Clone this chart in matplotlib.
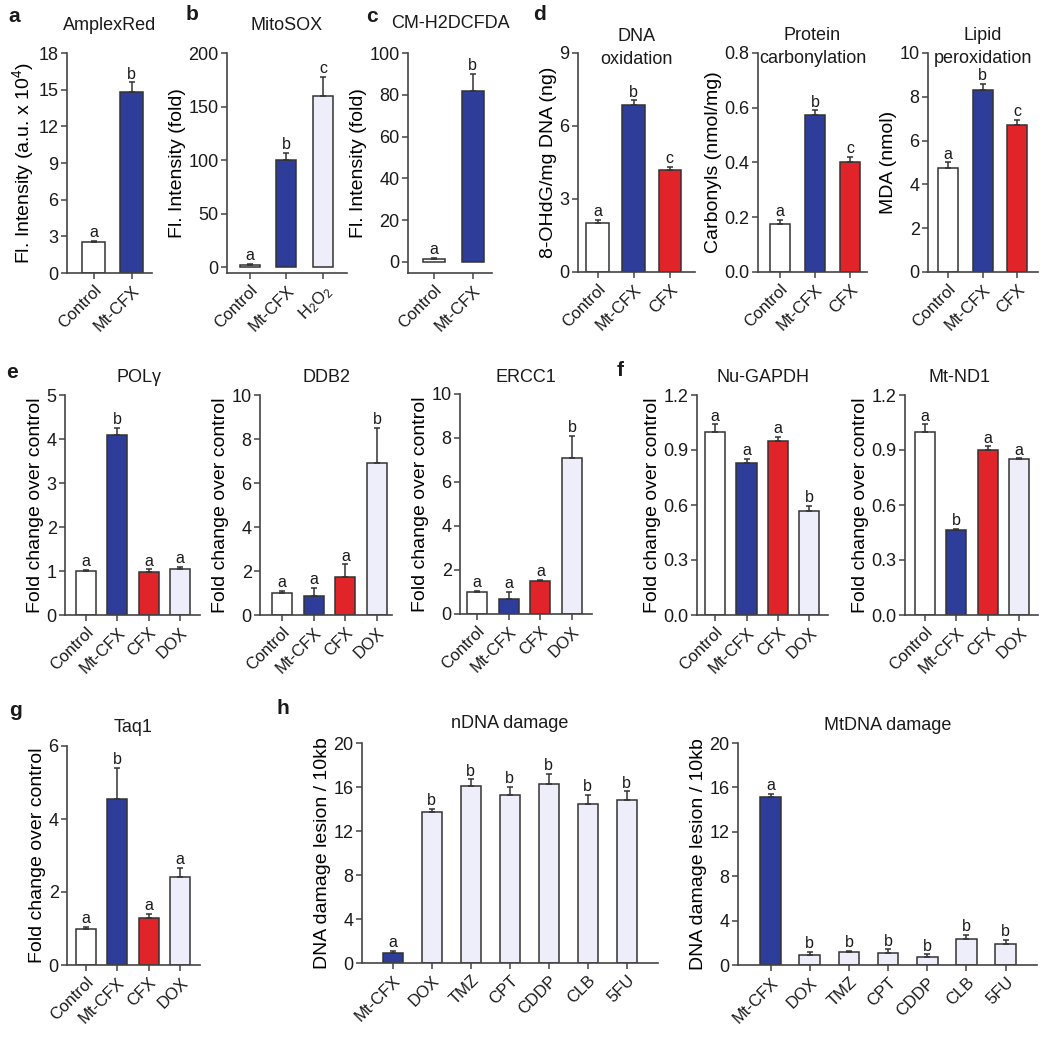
"""Multi-panel bar chart: ROS, oxidative damage, DNA repair genes and lesion counts."""
import matplotlib
matplotlib.use('Agg')
import matplotlib.pyplot as plt
import numpy as np
from matplotlib.ticker import FormatStrFormatter

plt.rcParams['font.family'] = ['Liberation Sans', 'DejaVu Sans']
plt.rcParams['mathtext.fontset'] = 'custom'
plt.rcParams['mathtext.rm'] = 'Liberation Sans'
plt.rcParams['mathtext.it'] = 'Liberation Sans:italic'
plt.rcParams['mathtext.bf'] = 'Liberation Sans:bold'
plt.rcParams['text.color'] = '#1a1a1a'

W, H = 1050, 1039

BLUE = '#2E3C9A'
RED = '#E1232A'
LAVENDER = '#EEEEFA'
WHITE = '#FFFFFF'
EDGE = '#333333'
SPINE = '#444444'

# Groups
CTRL_MT = ['Control', 'Mt-CFX']
MITOSOX_GROUPS = ['Control', 'Mt-CFX', 'H$_2$O$_2$']
GROUPS_3 = ['Control', 'Mt-CFX', 'CFX']
GROUPS_4 = ['Control', 'Mt-CFX', 'CFX', 'DOX']
DRUGS = ['Mt-CFX', 'DOX', 'TMZ', 'CPT', 'CDDP', 'CLB', '5FU']

COLOR_OF = {'Control': WHITE, 'Mt-CFX': BLUE, 'CFX': RED}

# a-c: ROS probes
AMPLEX_MEAN = [2.55, 14.8]
AMPLEX_ERR = [0.1, 0.8]
AMPLEX_SIG = ['a', 'b']

MITOSOX_MEAN = [2.0, 100.0, 160.0]
MITOSOX_ERR = [1.0, 7.0, 18.0]
MITOSOX_SIG = ['a', 'b', 'c']

DCFDA_MEAN = [1.5, 82.0]
DCFDA_ERR = [0.5, 8.0]
DCFDA_SIG = ['a', 'b']

# d: oxidative damage
DNA_OX_MEAN = [2.0, 6.85, 4.2]
DNA_OX_ERR = [0.15, 0.2, 0.12]
DNA_OX_SIG = ['a', 'b', 'c']

CARBONYL_MEAN = [0.175, 0.575, 0.40]
CARBONYL_ERR = [0.015, 0.015, 0.02]
CARBONYL_SIG = ['a', 'b', 'c']

MDA_MEAN = [4.75, 8.3, 6.7]
MDA_ERR = [0.25, 0.3, 0.25]
MDA_SIG = ['a', 'b', 'c']

# e: repair genes
POLG_MEAN = [1.0, 4.1, 0.97, 1.05]
POLG_ERR = [0.02, 0.15, 0.07, 0.05]
POLG_SIG = ['a', 'b', 'a', 'a']

DDB2_MEAN = [1.0, 0.88, 1.75, 6.9]
DDB2_ERR = [0.1, 0.35, 0.55, 1.6]
DDB2_SIG = ['a', 'a', 'a', 'b']

ERCC1_MEAN = [1.0, 0.7, 1.5, 7.1]
ERCC1_ERR = [0.05, 0.3, 0.05, 1.0]
ERCC1_SIG = ['a', 'a', 'a', 'b']

# f: nuclear / mitochondrial genes
GAPDH_MEAN = [1.0, 0.83, 0.95, 0.565]
GAPDH_ERR = [0.04, 0.02, 0.02, 0.03]
GAPDH_SIG = ['a', 'a', 'a', 'b']

ND1_MEAN = [1.0, 0.465, 0.90, 0.85]
ND1_ERR = [0.04, 0.005, 0.02, 0.005]
ND1_SIG = ['a', 'b', 'a', 'a']

# g: Taq1
TAQ1_MEAN = [1.0, 4.55, 1.3, 2.42]
TAQ1_ERR = [0.05, 0.85, 0.1, 0.25]
TAQ1_SIG = ['a', 'b', 'a', 'a']

# h: lesions per 10kb
NDNA_MEAN = [0.9, 13.7, 16.1, 15.3, 16.3, 14.5, 14.8]
NDNA_ERR = [0.2, 0.3, 0.6, 0.7, 0.9, 0.8, 0.8]
NDNA_SIG = ['a', 'b', 'b', 'b', 'b', 'b', 'b']

MTDNA_MEAN = [15.1, 0.9, 1.2, 1.05, 0.75, 2.3, 1.85]
MTDNA_ERR = [0.3, 0.3, 0.1, 0.35, 0.2, 0.4, 0.4]
MTDNA_SIG = ['a', 'b', 'b', 'b', 'b', 'b', 'b']

FOLD = 'Fold change over control'
FLUO = 'Fl. Intensity (fold)'
LESION = 'DNA damage lesion / 10kb'


def px_axes(fig, x0, x1, ytop, ybot):
    return fig.add_axes([x0 / W, 1 - ybot / H, (x1 - x0) / W, (ybot - ytop) / H])


def bar_panel(fig, box, groups, means, errs, sig, yticks, xlim, ylabel=None,
              title=None, title_y=None, title_dx=0, ybottom=0.0, fmt=None,
              width=0.62):
    ax = px_axes(fig, *box)
    x = np.arange(len(groups))
    colors = [COLOR_OF.get(g, LAVENDER) for g in groups]
    ax.bar(x, means, width=width, color=colors, edgecolor=EDGE,
           linewidth=1.1, zorder=2)
    ax.errorbar(x, means, yerr=[np.zeros(len(x)), errs], fmt='none',
                ecolor=EDGE, elinewidth=1.1, capsize=2.5, capthick=1.1,
                zorder=3, clip_on=False)
    for xi, m, e, s in zip(x, means, errs, sig):
        ax.annotate(s, (xi, m + e), xytext=(0, 0.5), textcoords='offset points',
                    ha='center', va='bottom', fontsize=11.5)

    ax.set_xlim(*xlim)
    ax.set_ylim(ybottom, yticks[-1])
    ax.set_yticks(yticks)
    if fmt:
        ax.yaxis.set_major_formatter(FormatStrFormatter(fmt))
    ax.set_xticks(x)
    ax.set_xticklabels(groups, rotation=45, ha='right', rotation_mode='anchor',
                       fontsize=12)
    ax.tick_params(axis='y', labelsize=13, length=4, width=1.1, colors=SPINE,
                   labelcolor='#1a1a1a', pad=2)
    ax.tick_params(axis='x', length=4, width=1.1, colors=SPINE,
                   labelcolor='#1a1a1a', pad=3)
    for side in ['top', 'right']:
        ax.spines[side].set_visible(False)
    for side in ['left', 'bottom']:
        ax.spines[side].set_linewidth(1.2)
        ax.spines[side].set_color(SPINE)
    if ylabel:
        ax.set_ylabel(ylabel, fontsize=14, labelpad=2)
    if title:
        cx = (box[0] + box[1]) / 2 + title_dx
        fig.text(cx / W, 1 - title_y / H, title, ha='center', va='center',
                 fontsize=13, linespacing=1.4)
    return ax


def main():
    fig = plt.figure(figsize=(W / 100, H / 100), dpi=100)

    # Row 1
    bar_panel(fig, (67, 152, 53, 273), CTRL_MT, AMPLEX_MEAN, AMPLEX_ERR,
              AMPLEX_SIG, np.arange(0, 19, 3), (-0.70, 1.54),
              ylabel='Fl. Intensity (a.u. x 10$^4$)', title='AmplexRed',
              title_y=25, width=0.6)
    bar_panel(fig, (227, 347, 53, 273), MITOSOX_GROUPS, MITOSOX_MEAN,
              MITOSOX_ERR, MITOSOX_SIG, np.arange(0, 201, 50), (-0.63, 2.66),
              ylabel=FLUO, title='MitoSOX', title_y=25, ybottom=-5.6,
              width=0.55)
    bar_panel(fig, (408, 492, 53, 273), CTRL_MT, DCFDA_MEAN, DCFDA_ERR,
              DCFDA_SIG, np.arange(0, 101, 20), (-0.68, 1.5), ylabel=FLUO,
              title='CM-H2DCFDA', title_y=23, ybottom=-5.3, width=0.57)
    bar_panel(fig, (578, 695, 53, 272), GROUPS_3, DNA_OX_MEAN, DNA_OX_ERR,
              DNA_OX_SIG, np.arange(0, 10, 3), (-0.54, 2.7),
              ylabel='8-OHdG/mg DNA (ng)', title='DNA\noxidation',
              title_y=48, width=0.62)
    bar_panel(fig, (758, 867, 53, 272), GROUPS_3, CARBONYL_MEAN, CARBONYL_ERR,
              CARBONYL_SIG, np.linspace(0, 0.8, 5), (-0.63, 2.49),
              ylabel='Carbonyls (nmol/mg)', title='Protein\ncarbonylation',
              title_y=47, fmt='%.1f', width=0.58)
    bar_panel(fig, (928, 1038, 53, 272), GROUPS_3, MDA_MEAN, MDA_ERR,
              MDA_SIG, np.arange(0, 11, 2), (-0.58, 2.6),
              ylabel='MDA (nmol)', title='Lipid\nperoxidation', title_y=47,
              width=0.58)

    # Row 2
    bar_panel(fig, (65, 200, 395, 615), GROUPS_4, POLG_MEAN, POLG_ERR,
              POLG_SIG, np.arange(0, 6, 1), (-0.67, 3.64), ylabel=FOLD,
              title='POLγ', title_y=378, title_dx=6, width=0.64)
    bar_panel(fig, (260, 392, 395, 615), GROUPS_4, DDB2_MEAN, DDB2_ERR,
              DDB2_SIG, np.arange(0, 11, 2), (-0.69, 3.47), ylabel=FOLD,
              title='DDB2', title_y=378, width=0.63)
    bar_panel(fig, (460, 592, 394, 614), GROUPS_4, ERCC1_MEAN, ERCC1_ERR,
              ERCC1_SIG, np.arange(0, 11, 2), (-0.54, 3.63), ylabel=FOLD,
              title='ERCC1', title_y=378, width=0.63)
    bar_panel(fig, (697, 828, 395, 615), GROUPS_4, GAPDH_MEAN, GAPDH_ERR,
              GAPDH_SIG, np.linspace(0, 1.2, 5), (-0.58, 3.6), ylabel=FOLD,
              title='Nu-GAPDH', title_y=378, fmt='%.1f', width=0.64)
    bar_panel(fig, (905, 1038, 395, 615), GROUPS_4, ND1_MEAN, ND1_ERR,
              ND1_SIG, np.linspace(0, 1.2, 5), (-0.64, 3.6), ylabel=FOLD,
              title='Mt-ND1', title_y=378, title_dx=-12, fmt='%.1f',
              width=0.64)

    # Row 3
    bar_panel(fig, (67, 200, 746, 965), GROUPS_4, TAQ1_MEAN, TAQ1_ERR,
              TAQ1_SIG, np.arange(0, 7, 2), (-0.59, 3.63), ylabel=FOLD,
              title='Taq1', title_y=728, width=0.64)
    bar_panel(fig, (362, 658, 743, 963), DRUGS, NDNA_MEAN, NDNA_ERR,
              NDNA_SIG, np.arange(0, 21, 4), (-0.79, 6.8), ylabel=LESION,
              title='nDNA damage', title_y=723, width=0.51)
    bar_panel(fig, (738, 1037, 743, 965), DRUGS, MTDNA_MEAN, MTDNA_ERR,
              MTDNA_SIG, np.arange(0, 21, 4), (-0.83, 6.8), ylabel=LESION,
              title='MtDNA damage', title_y=725, width=0.53)

    # Panel letters
    letters = [('a', 14, 16), ('b', 192, 14), ('c', 372, 17), ('d', 540, 14),
               ('e', 12, 373), ('f', 620, 370), ('g', 15, 710), ('h', 283, 709)]
    for s, px, py in letters:
        fig.text(px / W, 1 - py / H, s, ha='center', va='center',
                 fontsize=15, fontweight='bold')

    fig.savefig('out.png', dpi=100)
    plt.close(fig)


if __name__ == '__main__':
    main()
